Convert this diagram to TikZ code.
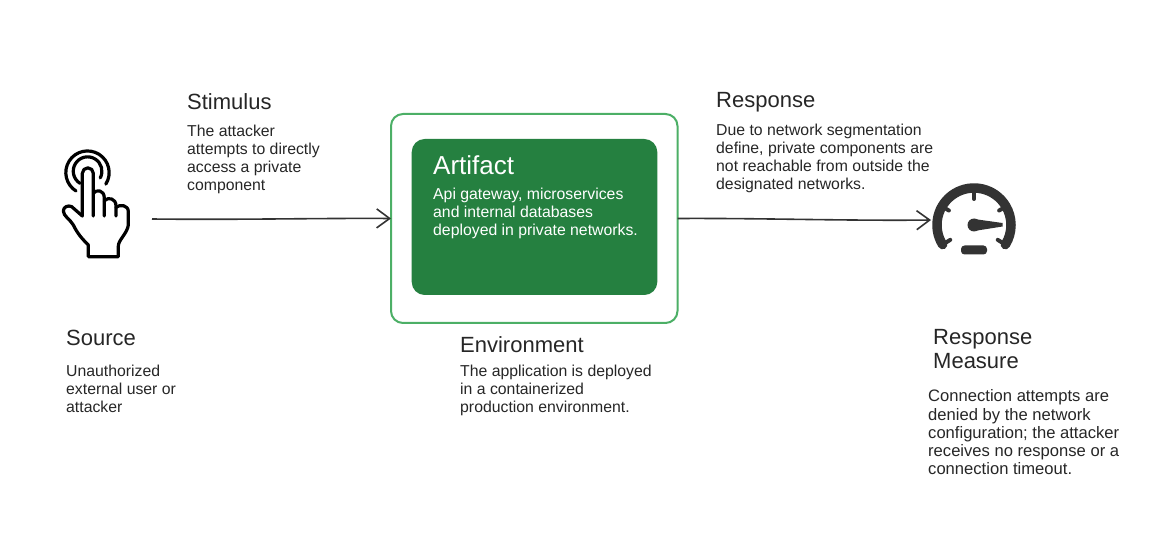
\documentclass[tikz,border=0pt]{standalone}
\usepackage{fontspec}
\setmainfont{Liberation Sans}
\usetikzlibrary{calc,arrows.meta}
\definecolor{envgreen}{HTML}{4CAF66}
\definecolor{artgreen}{HTML}{258040}
\definecolor{inkdark}{HTML}{333333}
\tikzset{>={Straight Barb[length=13pt,width=19pt,line width=1.6pt]}}
\tikzset{
  heading/.style={anchor=north west,inner sep=0pt,align=left,text=black!85,
    font=\fontsize{22}{24.5}\selectfont},
  bodytext/.style={anchor=north west,inner sep=0pt,align=left,text=black!85,
    font=\fontsize{15.8}{18}\selectfont},
  flow/.style={->,line width=1.6pt,color=inkdark},
  iconline/.style={line width=3.2pt,line join=round,line cap=round}
}

\begin{document}
\begin{tikzpicture}[x=1pt,y=1pt]
\useasboundingbox (0,-548) rectangle (1163,0);
% boxes
\node[draw=envgreen,line width=2pt,rounded corners=12pt,outer sep=0pt,minimum width=286.5pt,
  minimum height=209pt,anchor=north west] (environment) at (391,-114) {};
\node[fill=artgreen,rounded corners=13pt,outer sep=0pt,minimum width=245.6pt,
  minimum height=156pt,anchor=north west] (artifact) at (411.7,-139) {};
% free ends of the connectors
\coordinate (source) at (152,-219);
\coordinate (measure) at (931,-220);
\draw[flow] (source) .. controls (240,-220) and (320,-218) .. (environment.west);
\draw[flow] (environment.east) .. controls (760,-218) and (850,-221) .. (measure);
% texts
\node[heading] (stimulus) at (187,-93) {Stimulus};
\node[bodytext] (stimulustext) at (187,-124.5) {The attacker\\attempts to directly\\access a private\\component};
\node[heading] (sourcehead) at (66,-330) {Source};
\node[bodytext] (sourcetext) at (66,-365) {Unauthorized\\external user or\\attacker};
\node[heading,text=white,font=\fontsize{26}{30}\selectfont] (artifacthead) at (433,-155) {Artifact};
\node[bodytext,text=white] (artifacttext) at (433,-188) {Api gateway, microservices\\and internal databases\\deployed in private networks.};
\node[heading] (envhead) at (460,-336.5) {Environment};
\node[bodytext] (envtext) at (460,-364.5) {The application is deployed\\in a containerized\\production environment.};
\node[heading] (response) at (716,-92.5) {Response};
\node[bodytext] (responsetext) at (716,-123.5) {Due to network segmentation\\define, private components are\\not reachable from outside the\\designated networks.};
\node[heading] (measurehead) at (933,-329) {Response\\Measure};
\node[bodytext,font=\fontsize{16.6}{18.3}\selectfont] (measuretext) at (928,-389.5) {Connection attempts are\\denied by the network\\configuration; the attacker\\receives no response or a\\connection timeout.};
% hand icon
\begin{scope}[shift={(40,-130)},scale=1/3]
\draw[iconline] (127,-258) -- (127,-130) arc[start angle=180,end angle=0,radius=16.5]
  -- (160,-258);
\draw[iconline] (160,-190) .. controls (168,-178) and (193,-178) .. (193,-205) -- (193,-258);
\draw[iconline] (193,-212) .. controls (205,-200) and (228,-205) .. (228,-228) -- (228,-258);
\draw[iconline] (228,-232) .. controls (240,-222) and (265,-225) .. (265,-245)
  -- (265,-285) .. controls (262,-310) and (235,-330) .. (235,-348) -- (235,-380)
  -- (145,-380) -- (145,-345) .. controls (125,-325) and (112,-310) .. (100,-285)
  .. controls (92,-270) and (70,-258) .. (70,-243) .. controls (70,-230) and (85,-225) .. (95,-230)
  -- (127,-258);
\draw[iconline] (108,-183) arc[start angle=238,end angle=-32,radius=65];
\draw[iconline] (120,-160) arc[start angle=238,end angle=-28,radius=43];
\end{scope}
% gauge icon
\begin{scope}[shift={(974,-225)}]
\draw[inkdark,line width=9.5pt,line cap=round] (212:37) arc[start angle=212,end angle=-32,radius=37];
\foreach \a/\r in {30/29,90/26,150/29,212/28,-32/28}
  \draw[inkdark,line width=4pt,line cap=round] (\a:37) -- (\a:\r);
\fill[inkdark] (0,0) circle (6.5pt);
\fill[inkdark] (0,6) -- (28.5,2) -- (28.5,-1.5) -- (0,-6) -- cycle;
\fill[inkdark,rounded corners=3.5pt] (-13,-20.5) rectangle (13,-29.5);
\end{scope}
\end{tikzpicture}
\end{document}
